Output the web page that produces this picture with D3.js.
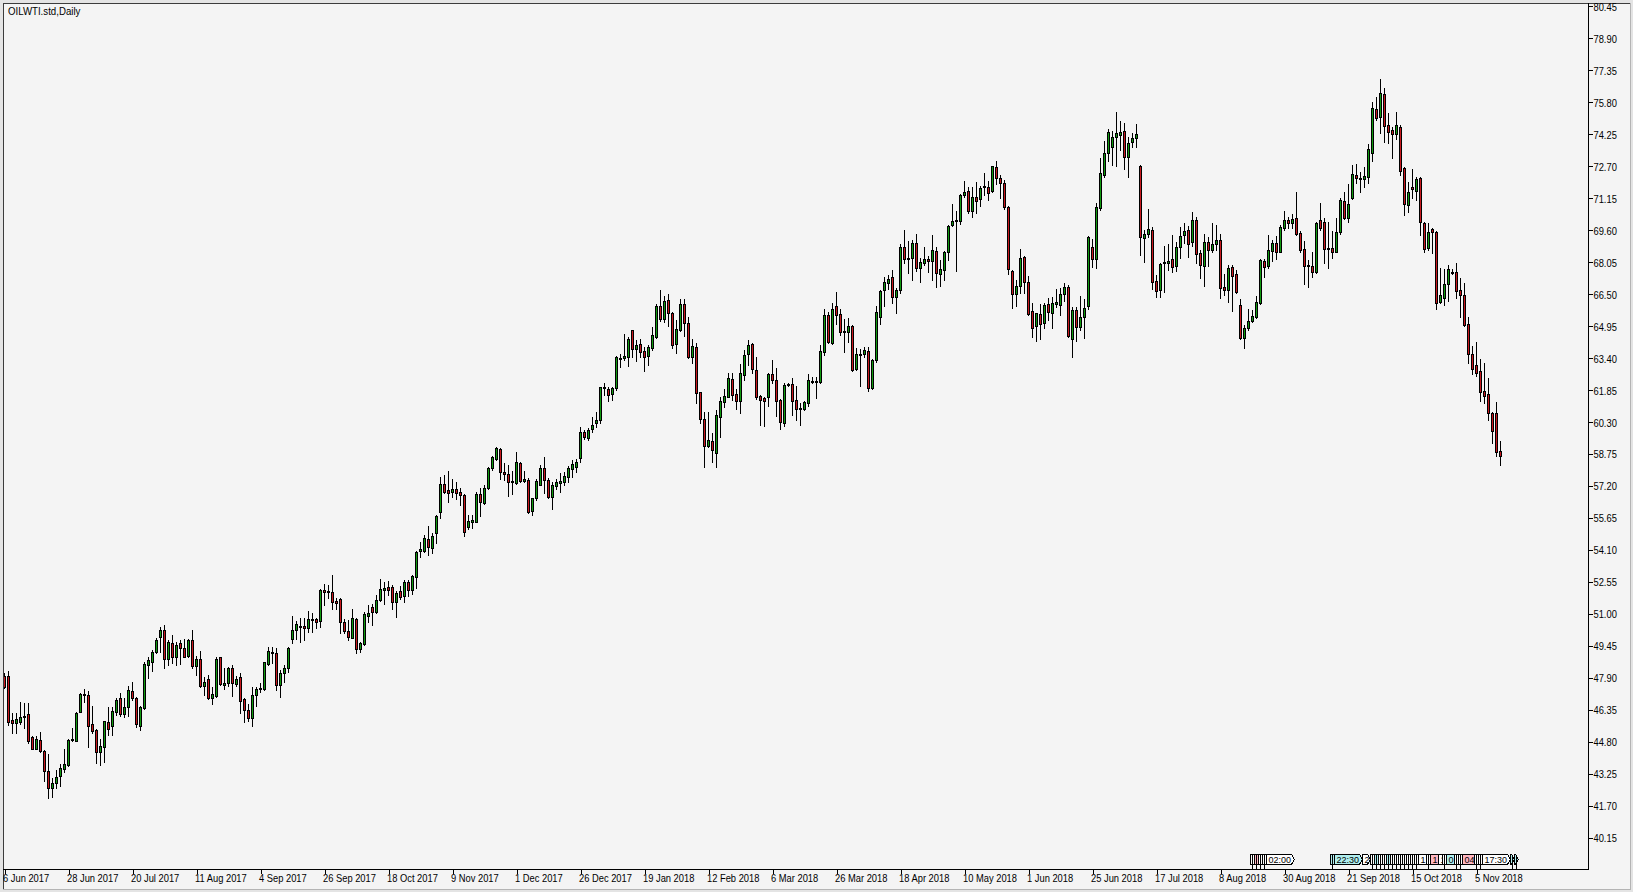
<!DOCTYPE html>
<html><head><meta charset="utf-8">
<script src="https://cdn.jsdelivr.net/npm/d3@7"></script>
<style>html,body{margin:0;padding:0;background:#f4f4f4;overflow:hidden}</style>
</head><body>
<svg id="c" width="1633" height="892"></svg>
<script>
const symbolTitle = "OILWTI.std,Daily";
const opens = [
47.99,47.99,45.86,45.69,45.78,46.02,46.13,45.02,44.47,44.89,
44.34,43.38,42.54,42.82,43.14,43.46,43.67,44.87,44.85,46.26,
47.07,47.08,45.66,45.37,44.30,44.56,45.78,45.58,46.23,46.91,
46.15,46.47,47.26,46.91,45.57,46.45,48.52,48.68,49.17,49.89,
50.22,48.79,49.57,48.92,49.57,49.33,48.97,49.73,48.49,48.79,
47.50,47.86,46.94,47.02,48.89,47.57,47.63,48.36,47.60,47.92,
46.85,46.34,45.95,47.08,47.34,47.34,48.57,49.12,49.08,47.57,
48.11,48.36,49.76,50.22,50.36,50.41,50.30,50.72,50.75,50.67,
52.16,52.11,52.07,51.64,51.70,50.59,50.17,49.84,50.75,49.28,
49.52,50.91,51.35,51.07,51.67,52.16,52.28,52.28,51.59,52.11,
51.88,52.56,52.17,52.80,54.05,54.06,54.63,54.21,54.93,55.95,
57.29,57.00,56.89,57.03,56.92,56.76,55.22,55.46,55.46,56.81,
56.35,57.11,58.05,58.53,58.97,57.86,57.76,57.44,57.32,58.29,
57.45,57.48,56.00,56.63,57.27,58.08,57.48,56.68,57.21,57.36,
57.40,57.65,58.02,58.13,58.57,59.80,59.54,59.94,60.23,60.39,
61.93,61.88,61.64,61.93,63.33,63.38,63.46,64.76,63.82,64.06,
63.74,63.50,63.87,64.43,65.92,65.27,66.21,65.56,64.06,64.76,
66.02,65.08,63.43,63.95,61.73,60.43,59.13,59.37,58.81,60.52,
61.28,61.52,62.38,61.64,61.33,62.57,63.62,64.08,62.82,61.56,
61.48,61.53,62.63,62.34,61.37,60.27,62.12,62.14,61.37,60.98,
60.92,61.21,62.26,62.26,62.24,63.71,65.49,64.15,65.92,65.54,
64.71,64.68,64.95,62.87,63.55,63.60,63.76,61.97,63.31,65.41,
66.70,67.06,67.31,66.38,66.70,68.77,68.19,68.24,68.97,67.75,
68.03,68.19,68.08,68.58,67.48,67.67,68.53,69.85,70.06,70.06,
71.28,71.50,70.55,71.20,71.10,71.68,71.68,71.52,72.68,72.12,
71.87,70.71,67.62,66.49,66.90,68.29,67.07,65.70,64.93,65.54,
65.09,66.02,65.57,66.02,65.97,66.50,66.83,64.31,65.73,64.92,
65.37,65.94,68.80,68.22,70.66,72.27,73.36,73.65,74.10,74.23,
74.39,73.16,73.89,74.05,72.71,69.20,69.40,69.61,67.14,66.70,
68.04,68.02,68.19,67.86,68.77,69.37,69.61,69.04,70.09,68.47,
67.87,69.04,68.63,68.92,69.12,66.86,66.69,67.79,67.45,65.97,
64.38,64.84,65.19,65.40,66.05,68.10,67.87,68.60,68.96,68.55,
69.72,70.09,69.93,70.17,69.44,68.68,67.91,67.87,67.55,70.09,
69.98,68.71,68.71,68.55,69.49,71.01,70.20,71.14,72.27,72.11,
72.06,72.19,73.32,75.45,75.10,76.18,74.69,74.45,74.24,74.58,
72.59,70.82,71.70,71.51,72.11,69.97,68.71,69.65,69.52,66.13,
66.32,66.97,67.58,67.55,66.69,66.48,65.03,63.58,63.06,62.77,
61.80,61.65,60.76,60.72,58.89];
const highs = [
48.12,48.25,46.21,46.18,46.71,46.66,46.66,45.08,45.08,45.29,
44.40,44.21,43.03,43.43,43.72,44.47,44.92,45.45,46.26,47.15,
47.34,47.26,46.53,45.44,44.92,45.81,46.47,46.50,46.94,47.15,
46.91,47.50,47.71,46.99,46.53,48.68,48.93,49.25,49.81,50.38,
50.46,49.73,49.97,49.65,49.73,49.76,49.76,50.22,48.96,49.20,
47.95,48.03,47.47,48.89,48.92,48.36,48.44,48.52,47.99,48.15,
46.90,46.63,47.47,47.44,47.66,48.68,49.41,49.38,49.33,48.28,
48.52,49.41,50.89,50.67,50.81,50.81,51.14,51.02,50.81,52.19,
52.43,52.40,52.88,51.75,51.75,50.75,50.70,51.23,50.81,49.65,
51.10,51.43,51.46,51.91,52.69,52.56,52.59,52.40,52.11,52.35,
52.64,52.64,52.88,54.05,54.47,54.82,55.27,54.90,55.79,57.62,
57.73,57.92,57.52,57.37,57.11,56.79,55.79,55.79,56.89,57.11,
57.27,58.13,58.66,59.10,59.02,58.29,58.21,57.92,58.86,58.37,
57.92,57.57,56.64,57.53,58.21,58.61,57.57,57.40,57.53,57.81,
57.86,58.18,58.45,58.50,60.07,59.91,59.99,60.54,60.80,62.01,
62.20,62.01,61.98,63.50,63.59,64.56,64.40,64.76,64.27,64.30,
63.95,64.03,64.92,66.02,66.70,66.40,66.50,65.65,65.24,66.24,
66.24,65.40,64.30,64.14,61.77,60.80,60.80,59.75,60.88,61.52,
61.88,62.66,62.66,61.88,63.11,63.79,64.27,64.15,63.44,61.61,
61.53,62.66,63.31,62.90,61.40,62.21,62.21,62.42,62.05,61.24,
61.32,62.63,62.47,62.50,64.03,65.76,65.65,66.05,66.62,65.76,
65.28,65.33,65.00,63.87,63.82,63.95,63.92,63.34,65.92,66.70,
67.31,67.43,67.67,66.78,68.93,69.61,69.05,69.10,69.42,68.24,
68.80,68.35,69.37,68.80,68.16,68.61,69.85,70.87,70.55,71.36,
71.96,71.71,71.68,71.92,71.74,72.36,71.96,72.71,72.96,72.28,
72.04,70.78,67.67,67.16,68.69,68.35,67.38,66.06,65.60,66.02,
66.09,66.30,66.38,66.73,66.78,67.05,66.94,65.89,65.86,66.41,
66.25,69.32,69.16,70.90,73.08,73.94,74.49,74.42,75.31,74.91,
74.81,74.10,74.29,74.75,72.76,69.61,70.61,69.77,67.43,68.02,
68.83,68.93,69.37,69.04,69.74,69.93,69.80,70.46,70.22,68.63,
69.39,69.28,69.93,69.85,69.39,67.45,67.91,67.91,67.66,66.26,
65.00,65.77,65.73,66.42,68.20,68.20,69.36,69.12,69.33,69.85,
70.52,70.25,70.36,71.46,69.55,69.07,68.15,68.52,70.01,70.90,
70.20,69.98,69.55,70.20,71.14,71.46,71.82,72.75,72.80,72.43,
72.64,73.77,75.82,76.03,76.92,76.47,75.29,74.61,75.34,74.69,
72.64,71.95,72.54,72.19,72.19,70.01,69.93,69.68,69.55,67.75,
67.70,67.91,67.70,68.02,67.26,67.02,65.40,63.98,64.19,63.33,
63.17,62.41,60.80,61.28,59.37];
const lows = [
47.39,45.61,45.21,45.24,45.66,45.45,44.76,44.47,44.47,44.32,
42.92,42.06,42.14,42.56,42.66,43.35,43.63,44.85,44.85,46.23,
46.75,44.53,45.21,43.79,43.66,43.84,45.13,45.13,46.10,46.07,
46.02,46.05,46.83,45.53,45.37,46.37,47.88,48.24,49.12,49.17,
48.36,48.52,48.60,48.52,48.57,48.89,48.92,48.36,48.03,47.44,
47.06,46.85,46.63,46.98,47.55,47.34,47.50,47.03,47.50,46.21,
45.77,45.82,45.56,46.53,47.23,47.31,48.54,48.60,47.31,46.98,
47.71,48.20,49.57,49.76,49.65,49.73,50.14,50.14,50.30,50.38,
51.43,51.75,51.23,51.23,50.05,50.05,49.73,49.81,49.08,49.13,
49.49,50.62,50.46,51.02,51.62,51.46,51.91,51.23,50.86,51.72,
51.56,51.88,51.95,52.24,53.77,54.01,53.85,53.97,54.42,55.66,
56.84,56.41,56.68,56.56,56.27,54.79,55.11,55.14,55.43,55.76,
56.32,57.05,57.97,58.45,57.53,57.48,56.72,56.79,57.29,57.37,
57.37,55.87,55.79,56.52,57.24,56.84,56.64,56.08,57.05,56.89,
57.27,57.40,57.65,57.89,58.34,59.47,59.42,59.83,60.07,60.26,
61.60,61.33,61.36,61.85,62.95,63.30,63.01,63.46,63.27,63.43,
62.78,63.06,63.79,64.35,65.21,65.16,64.95,63.87,63.66,64.72,
64.47,63.38,63.14,61.23,60.26,58.10,59.10,58.37,58.10,59.58,
61.04,61.49,61.39,60.91,60.75,62.33,63.06,62.66,61.40,60.16,
60.11,61.08,62.18,60.59,59.95,60.11,62.05,60.64,60.40,60.16,
60.88,61.08,62.18,61.45,62.18,63.55,64.11,64.08,65.05,64.52,
63.71,64.20,62.79,62.82,62.05,63.47,61.82,61.92,63.23,65.05,
65.92,66.73,66.09,65.60,66.57,68.03,67.54,67.16,67.64,67.11,
67.91,67.59,67.19,66.86,66.90,67.19,68.13,69.80,67.64,69.90,
71.23,70.45,70.26,70.45,70.79,71.31,71.07,71.47,71.84,71.18,
70.61,67.48,65.81,65.94,66.54,66.57,65.49,64.44,64.25,64.31,
64.85,65.25,64.87,65.89,65.49,66.18,64.40,63.43,64.24,64.76,
64.36,65.76,67.80,67.75,70.58,72.19,72.97,72.76,72.71,73.49,
72.55,72.16,73.65,73.65,68.40,68.07,69.25,66.73,66.38,66.34,
66.62,67.67,67.59,67.64,68.23,68.96,68.28,68.83,68.02,67.29,
66.90,67.87,68.52,68.63,66.32,66.48,66.13,65.68,66.53,64.32,
63.90,64.76,65.16,65.32,66.00,67.34,67.78,68.10,68.20,68.52,
69.60,69.68,69.68,69.36,68.55,66.97,66.86,67.34,67.50,69.60,
67.99,67.78,68.26,68.52,69.39,70.14,70.01,71.10,71.90,71.46,
71.70,71.90,72.96,74.94,74.32,73.89,73.84,73.08,74.00,72.27,
70.33,70.49,71.14,71.06,69.36,68.55,68.63,68.47,65.76,66.05,
65.97,66.18,67.47,66.29,65.37,64.95,63.14,62.62,62.52,61.33,
61.23,60.42,59.26,58.65,58.21];
const closes = [
47.44,45.78,45.69,45.90,45.99,46.05,44.85,44.47,44.94,44.34,
43.38,42.54,42.80,43.09,43.53,43.72,44.89,44.94,46.21,47.10,
47.10,45.57,45.31,44.29,44.60,45.81,45.44,46.29,46.84,46.15,
46.50,47.29,46.94,45.68,46.47,48.57,48.77,49.17,49.73,50.22,
48.79,49.65,48.92,49.49,49.33,48.92,49.73,48.49,48.79,47.50,
47.69,46.94,47.11,48.83,47.60,47.66,48.36,47.63,47.82,46.79,
46.32,45.95,47.08,47.34,47.40,48.66,49.20,49.17,47.57,48.13,
48.36,49.34,50.22,50.51,50.39,50.30,50.75,50.74,50.62,52.16,
52.08,52.04,51.59,51.54,50.59,50.18,49.89,50.78,49.28,49.57,
50.98,51.02,51.07,51.67,52.20,52.24,52.16,51.59,52.03,51.83,
52.53,52.16,52.85,54.01,54.13,54.66,54.26,54.77,55.74,57.29,
56.92,56.84,57.05,56.84,56.76,54.98,55.50,55.55,56.79,56.40,
57.08,58.05,58.58,59.02,57.86,57.76,57.37,57.40,58.34,57.44,
57.53,55.95,56.63,57.44,58.08,57.47,56.68,57.24,57.39,57.42,
57.69,58.08,58.26,58.37,59.80,59.59,59.92,60.15,60.41,61.98,
61.98,61.60,61.93,63.46,63.38,63.50,64.30,63.82,64.03,63.71,
63.46,63.95,64.51,65.92,65.27,66.16,65.56,64.03,64.80,66.02,
65.11,63.43,63.98,61.72,60.43,59.15,59.42,58.94,60.64,61.31,
61.56,62.41,61.60,61.33,62.66,63.54,64.03,62.85,61.53,61.37,
61.34,62.63,62.34,61.34,60.32,62.09,62.14,61.34,60.92,60.92,
61.26,62.34,62.31,62.31,63.76,65.49,64.20,65.76,65.49,64.68,
64.68,64.95,62.82,63.60,63.60,63.79,61.97,63.31,65.65,66.67,
67.07,67.22,66.35,66.70,68.77,68.19,68.24,68.97,67.75,68.04,
68.19,68.08,68.64,67.51,67.72,68.53,69.81,70.05,70.10,71.31,
71.44,70.55,71.20,70.99,71.63,71.74,71.39,72.71,72.15,71.87,
70.71,67.70,66.49,66.90,68.24,67.11,65.54,64.88,65.57,65.05,
65.98,65.65,66.05,66.13,66.50,66.83,64.47,65.73,64.92,65.37,
65.81,69.28,68.22,70.71,72.35,73.32,74.34,74.10,74.29,74.36,
73.13,73.81,74.05,74.26,69.25,69.40,69.64,67.10,66.67,67.96,
67.99,68.11,67.83,68.80,69.32,69.56,68.91,70.09,68.44,67.91,
69.04,68.63,68.92,69.12,66.81,66.69,67.75,67.39,66.58,64.35,
64.84,65.19,65.45,66.10,68.15,67.83,68.63,68.96,68.52,69.77,
70.09,69.93,70.14,69.39,68.63,67.87,67.87,67.55,69.93,69.68,
68.68,68.68,68.52,69.49,71.06,70.20,70.85,72.30,72.11,72.06,
72.22,73.53,75.50,75.05,76.23,74.66,74.37,74.24,74.69,72.48,
70.86,71.43,71.57,72.08,70.01,68.68,69.52,69.52,66.08,66.44,
66.99,67.70,67.55,66.66,66.45,65.00,63.59,62.85,62.69,61.77,
61.56,60.75,59.87,58.86,58.66];
const dateLabels = ["6 Jun 2017","28 Jun 2017","20 Jul 2017","11 Aug 2017","4 Sep 2017","26 Sep 2017",
"18 Oct 2017","9 Nov 2017","1 Dec 2017","26 Dec 2017","19 Jan 2018","12 Feb 2018","6 Mar 2018",
"26 Mar 2018","18 Apr 2018","10 May 2018","1 Jun 2018","25 Jun 2018","17 Jul 2018","8 Aug 2018",
"30 Aug 2018","21 Sep 2018","15 Oct 2018","5 Nov 2018"];
const labelEvery = 16;
const priceTicks = ["80.45","78.90","77.35","75.80","74.25","72.70","71.15","69.60","68.05","66.50",
"64.95","63.40","61.85","60.30","58.75","57.20","55.65","54.10","52.55","51.00","49.45","47.90",
"46.35","44.80","43.25","41.70","40.15"];
// session marker boxes: [fromBar, toBar, label, colour kind, arrow]
const sessionMarks = [
 [312,312,"","w"],[313,313,"","p"],[314,314,"","w"],[315,315,"","w"],[316,322,"02:00","w",1],
 [332,332,"","c"],[333,339,"22:30","c",1],[340,341,"20","w",1],
 [342,342,"","w"],[343,343,"","c"],[344,344,"","w"],[345,345,"","w"],[346,346,"","c"],[347,347,"","w"],
 [348,348,"","w"],[349,349,"","w"],[350,350,"","w"],[351,351,"","w"],[352,352,"","w"],[353,353,"","w"],
 [354,355,"1","w"],[356,356,"","w"],[357,358,"1","p"],[359,359,"1","w"],[360,360,"","w"],[361,362,"0","c"],
 [363,363,"","w"],[364,364,"","w"],[365,367,"04","p"],[368,368,"","w"],[369,369,"","w"],
 [370,376,"17:30","w",1],[377,377,"","c",1],[378,378,"","c",1]
];

const W = 1633, H = 892;
const frame = {left: 3, top: 3, right: 1588, bottom: 869, winRight: 1630, winBottom: 889};
const FONT = "'Liberation Sans', Arial, sans-serif";
const SX = 0.85;
const upFill = "#109a10", downFill = "#c8181e";
const kindFill = {w: "#ffffff", c: "#afeeee", p: "#ffb6c1"};

const svg = d3.select("#c");
svg.append("rect").attr("width", W).attr("height", H).attr("fill", "#e4e4e4");
svg.append("rect").attr("x", frame.left).attr("y", frame.top)
  .attr("width", frame.winRight - frame.left).attr("height", frame.winBottom - frame.top).attr("fill", "#f4f4f4");

const n = opens.length;
const x = d3.scaleLinear().domain([0, n - 1]).range([4.5, 4.5 + 4 * (n - 1)]);
const y = d3.scaleLinear().domain([40.15, 80.45]).range([837.7, 6.3]);

svg.append("clipPath").attr("id", "pc").append("rect")
  .attr("x", frame.left + 1).attr("y", frame.top + 1)
  .attr("width", frame.right - frame.left - 1).attr("height", frame.bottom - frame.top - 1);

const bars = d3.range(n).map(i => ({i, o: opens[i], h: highs[i], l: lows[i], c: closes[i]}));
const g = svg.append("g").attr("clip-path", "url(#pc)").attr("shape-rendering", "crispEdges");

g.selectAll("line.w").data(bars).join("line").attr("class", "w")
  .attr("x1", d => x(d.i)).attr("x2", d => x(d.i))
  .attr("y1", d => Math.round(y(d.h))).attr("y2", d => Math.round(y(d.l)) + 1)
  .attr("stroke", "#000").attr("stroke-width", 1);

g.selectAll("rect.b").data(bars).join("rect").attr("class", "b")
  .attr("x", d => x(d.i) - 1)
  .attr("y", d => Math.round(y(Math.max(d.o, d.c))) + 0.5)
  .attr("width", 2)
  .attr("height", d => Math.max(1, Math.round(y(Math.min(d.o, d.c))) - Math.round(y(Math.max(d.o, d.c)))))
  .attr("fill", d => d.c >= d.o ? upFill : downFill)
  .attr("stroke", "#000").attr("stroke-width", 1);

// session markers
const sg = svg.append("g").attr("shape-rendering", "crispEdges");
const sy0 = 854.5, sy1 = 864.5;
sessionMarks.forEach(m => {
  const x0 = x(m[0]) - 2, x1 = x(m[1]) + 2;
  let p;
  if (m[4]) p = `M${x0},${sy0}H${x1 - 3}L${x1},${(sy0 + sy1) / 2}L${x1 - 3},${sy1}H${x0}Z`;
  else p = `M${x0},${sy0}H${x1}V${sy1}H${x0}Z`;
  sg.append("path").attr("d", p).attr("fill", kindFill[m[3]]).attr("stroke", "#000").attr("stroke-width", 1);
  if (!m[2]) sg.append("line").attr("x1", x0 + 2).attr("x2", x0 + 2).attr("y1", sy0).attr("y2", frame.bottom).attr("stroke", "#000");
  if (m[2]) sg.append("text").attr("x", x0 + 2).attr("y", 862.5).attr("font-family", FONT).attr("font-size", 9)
    .attr("fill", "#000").text(m[2]);
});

// frame lines
const fl = svg.append("g").attr("shape-rendering", "crispEdges").attr("stroke-width", 1);
fl.append("line").attr("x1", frame.left + 0.5).attr("x2", frame.left + 0.5).attr("y1", frame.top).attr("y2", frame.winBottom).attr("stroke", "#3c3c3c");
fl.append("line").attr("x1", frame.left).attr("x2", frame.winRight).attr("y1", frame.top + 0.5).attr("y2", frame.top + 0.5).attr("stroke", "#3c3c3c");
fl.append("line").attr("x1", frame.winRight + 0.5).attr("x2", frame.winRight + 0.5).attr("y1", frame.top).attr("y2", frame.winBottom + 1).attr("stroke", "#b4b4b4");
fl.append("line").attr("x1", frame.left).attr("x2", frame.winRight + 1).attr("y1", frame.winBottom + 0.5).attr("y2", frame.winBottom + 0.5).attr("stroke", "#b4b4b4");
fl.append("line").attr("x1", frame.right + 0.5).attr("x2", frame.right + 0.5).attr("y1", frame.top).attr("y2", frame.bottom + 1).attr("stroke", "#000");
fl.append("line").attr("x1", frame.left).attr("x2", frame.right + 1).attr("y1", frame.bottom + 0.5).attr("y2", frame.bottom + 0.5).attr("stroke", "#000");

// price axis
const ya = svg.append("g").attr("transform", `translate(${frame.right + 0.5},0)`)
  .call(d3.axisRight(y).tickValues(priceTicks.map(Number))
    .tickFormat(d => priceTicks.find(s => +s === d)).tickSize(4).tickSizeOuter(0));
ya.select(".domain").remove();
ya.attr("font-family", FONT).attr("font-size", 11).attr("color", "#000");
ya.selectAll("line").attr("shape-rendering", "crispEdges");
ya.selectAll("text").attr("x", 5 / SX).attr("dy", null).attr("y", 4).attr("transform", `scale(${SX},1)`);

// time axis
const xa = svg.append("g").attr("transform", `translate(0,${frame.bottom + 0.5})`)
  .call(d3.axisBottom(x).tickValues(dateLabels.map((_, i) => i * labelEvery))
    .tickFormat(d => dateLabels[d / labelEvery]).tickSize(4).tickSizeOuter(0));
xa.select(".domain").remove();
xa.attr("font-family", FONT).attr("font-size", 11).attr("color", "#000").attr("text-anchor", "start");
xa.selectAll("line").attr("shape-rendering", "crispEdges");
xa.selectAll("text").attr("x", -2 / SX).attr("dy", null).attr("y", 12.5).attr("transform", `scale(${SX},1)`);

// title
svg.append("text").attr("transform", `translate(8,15) scale(0.88,1)`)
  .attr("font-family", FONT).attr("font-size", 11).attr("fill", "#000").text(symbolTitle);
</script>
</body></html>
